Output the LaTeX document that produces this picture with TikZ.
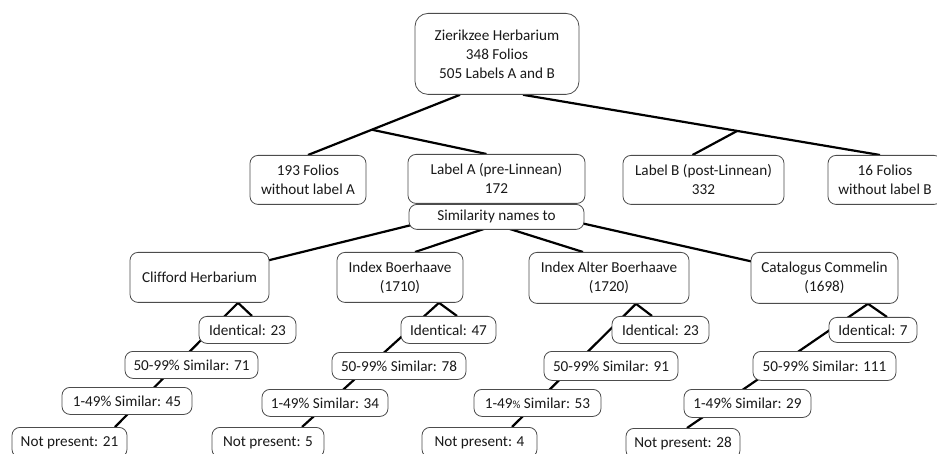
\documentclass[tikz,border=0pt]{standalone}
\usepackage{fontspec}
\setmainfont{Carlito}[Ligatures=NoCommon]
\usetikzlibrary{shapes}
\usetikzlibrary{backgrounds,calc}
\tikzset{
	treenode/.style = {
		align=center,
		inner sep=0pt,
		text centered,
		font=\fontsize{15.2}{19}\selectfont,
		text=black!90,
		anchor=north
	},
	node_box/.style = {
		treenode,
		rectangle,
		rounded corners=8pt,
		draw=black!70,
		fill=white,
		line width=0.8pt
	},
	node_root/.style = {
		node_box,
		rounded corners=13pt,
		minimum width=164pt,
		minimum height=81pt
	},
	node_mid/.style = {
		node_box,
		minimum height=49pt
	},
	node_sub/.style = {
		node_box,
		minimum height=50pt
	},
	node_count/.style = {
		node_box,
		minimum height=27pt
	},
	node_cut/.style = {
		node_box,
		minimum height=30pt
	},
	branch/.style = {
		line width=2.2pt,
		black
	},
}

\begin{document}
\begin{tikzpicture}[x=1pt,y=-1pt]
\useasboundingbox (0,0) rectangle (937,454);
% top
\node [node_root] (root) at (497,13) {Zierikzee Herbarium\\348 Folios\\505 Labels A and B};
\node [node_mid, minimum width=116pt] (f193) at (308,155) {193 Folios\\without label A};
\node [node_mid, minimum width=177pt] (la) at (496.5,154) {Label A (pre-Linnean)\\172};
\node [node_box, minimum width=175pt, minimum height=25pt] (sim) at (496.5,204) {Similarity names to};
\node [node_mid, minimum width=161pt] (lb) at (703.5,155) {Label B (post-Linnean)\\332};
\node [node_mid, minimum width=114pt] (f16) at (885,155) {16 Folios\\without label B};
% sources
\node [node_sub, minimum width=139pt] (cliff) at (199.5,252) {Clifford Herbarium};
\node [node_sub, minimum width=126pt] (ib) at (400,252) {Index Boerhaave\\(1710)};
\node [node_sub, minimum width=160pt, minimum height=51pt] (ia) at (609,252) {Index Alter Boerhaave\\(1720)};
\node [node_sub, minimum width=147pt, minimum height=51pt] (cat) at (824.5,252) {Catalogus Commelin\\(1698)};
% Clifford
\node [node_count, minimum width=97pt] (id1) at (247.5,316) {Identical: 23};
\node [node_count, minimum width=133pt] (s50_1) at (191.5,351) {50-99\% Similar: 71};
\node [node_count, minimum width=130pt] (s1_1) at (127,387) {1-49\% Similar: 45};
\node [node_cut, minimum width=115pt] (np1) at (69.5,427) {Not present: 21};
% Index Boerhaave
\node [node_count, minimum width=95pt] (id2) at (448.5,316) {Identical: 47};
\node [node_count, minimum width=134pt] (s50_2) at (399,352) {50-99\% Similar: 78};
\node [node_count, minimum width=126pt] (s1_2) at (325,389) {1-49\% Similar: 34};
\node [node_cut, minimum width=112pt] (np2) at (268,427) {Not present: 5};
% Index Alter Boerhaave
\node [node_count, minimum width=97pt] (id3) at (660.5,316) {Identical: 23};
\node [node_count, minimum width=134pt, minimum height=29pt] (s50_3) at (611,351) {50-99\% Similar: 91};
\node [node_count, minimum width=127pt] (s1_3) at (537.5,389) {1-49{\fontsize{11}{13}\selectfont\%} Similar: 53};
\node [node_cut, minimum width=115pt] (np3) at (479.5,427) {Not present: 4};
% Catalogus Commelin
\node [node_count, minimum width=88pt, minimum height=25pt] (id4) at (873,317) {Identical: 7};
\node [node_count, minimum width=143pt, minimum height=29pt] (s50_4) at (824.5,351) {50-99\% Similar: 111};
\node [node_count, minimum width=127pt, minimum height=28pt] (s1_4) at (747.5,389) {1-49\% Similar: 29};
\node [node_cut, minimum width=114pt] (np4) at (683,428) {Not present: 28};
% connectors
\begin{scope}[on background layer={branch}]
\draw ([xshift=-37pt]root.south) -- (f193.north);
\coordinate (jA) at ($([xshift=-37pt]root.south)!0.58!(f193.north)$);
\draw (jA) -- ([xshift=-10pt]la.north);
\draw ([xshift=26pt]root.south) -- ([xshift=-5pt]f16.north);
\coordinate (jB) at ($([xshift=26pt]root.south)!0.6!([xshift=-5pt]f16.north)$);
\draw (jB) -- ([xshift=-11pt]lb.north);
\draw (sim.north) -- (cliff.center);
\draw (sim.north) -- (cat.center);
\draw ([yshift=5pt]sim.south) -- ([xshift=15pt]ib.north);
\draw ([yshift=5pt]sim.south) -- ([xshift=-26pt]ia.north);
\coordinate (j1) at ([xshift=38.5pt]cliff.south);
\draw (j1) -- ([xshift=4.5pt]id1.north);
\draw (j1) -- ([xshift=45.5pt]np1.north);
\coordinate (j2) at ([xshift=39pt]ib.south);
\draw (j2) -- ([xshift=8.5pt]id2.north);
\draw (j2) -- ([xshift=34pt]np2.north);
\coordinate (j3) at ([xshift=27pt]ia.south);
\draw (j3) -- ([xshift=-8.5pt]id3.north);
\draw (j3) -- ([xshift=32.5pt]np3.north);
\coordinate (j4) at ([xshift=43.5pt]cat.south);
\draw (j4) -- ([xshift=14pt]id4.north);
\draw (j4) -- ([xshift=4pt]np4.north);
\end{scope}
\end{tikzpicture}
\end{document}
